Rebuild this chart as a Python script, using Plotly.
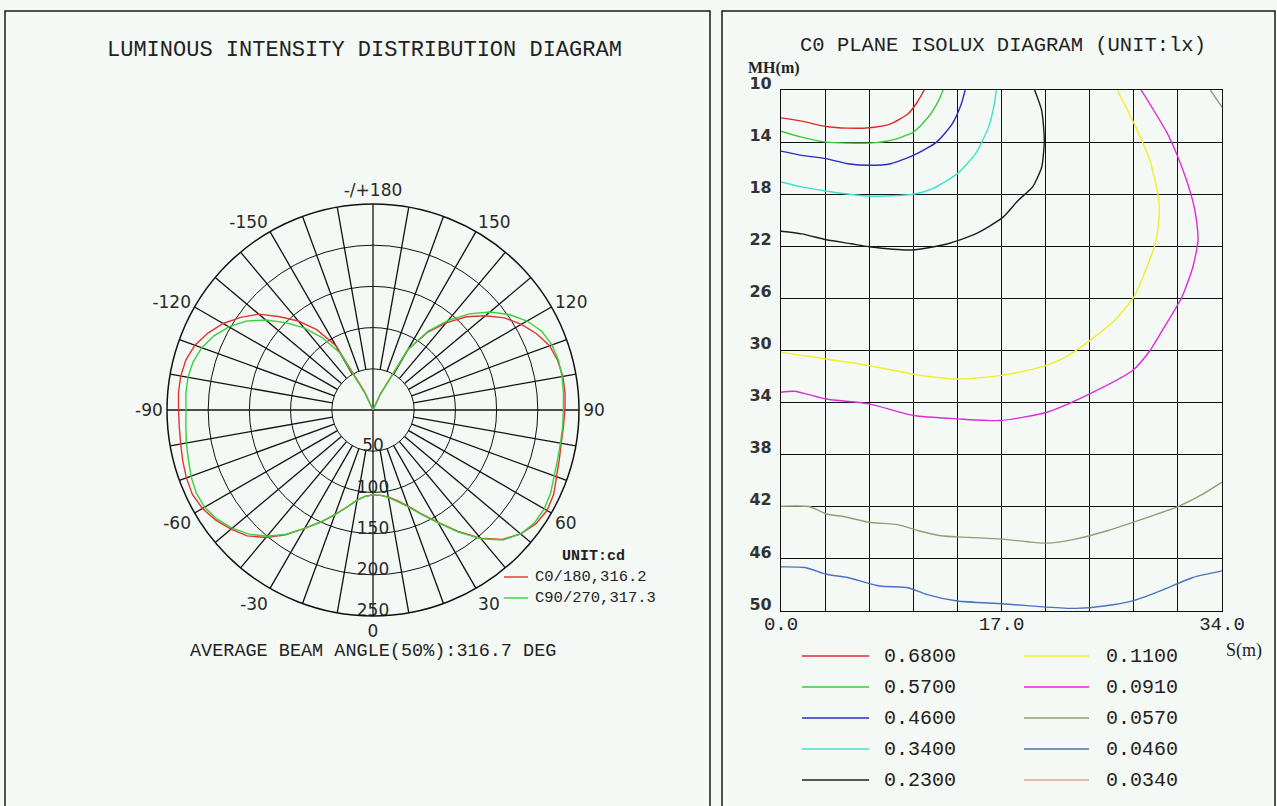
import plotly.graph_objects as go
import numpy as np

# ---------------- DATA ----------------
ANGLES = list(range(-180, 181, 5))
C0_180 = [0, 0, 0, 0, 0, 25, 90, 119, 141, 160, 181, 196, 210, 221, 230, 235, 237, 237,
          236, 236, 237, 239, 241, 242, 239, 233, 225, 216, 202, 185, 166, 150, 135, 122, 111, 105,
          103,
          104, 107, 114, 124, 139, 157, 180, 203, 222, 234, 241, 244, 242, 237, 234, 232, 232,
          233, 234, 234, 232, 228, 219, 208, 195, 178, 160, 138, 115, 85, 22, 0, 0, 0, 0, 0]
C90_270 = [0, 0, 0, 0, 0, 20, 80, 107, 130, 150, 170, 188, 202, 213, 221, 226, 228, 228,
           227, 228, 230, 232, 235, 237, 236, 231, 223, 213, 200, 184, 166, 150, 135, 122, 111, 105,
           103,
           104, 108, 115, 125, 140, 158, 181, 204, 223, 234, 239, 240, 238, 234, 232, 231, 231,
           231, 232, 233, 233, 231, 226, 216, 202, 185, 165, 142, 117, 84, 20, 0, 0, 0, 0, 0]
POLAR_NAMES = ["C0/180,316.2", "C90/270,317.3"]
POLAR_COLORS = ["#e03434", "#3ccf3c"]
RADIAL_TICKS = [50, 100, 150, 200, 250]
ANG_TICKVALS = [0, 30, 60, 90, 120, 150, 180, 210, 240, 270, 300, 330]
ANG_TICKTEXT = ["0", "30", "60", "90", "120", "150", "-/+180", "-150", "-120", "-90", "-60", "-30"]

LEVELS = ["0.6800", "0.5700", "0.4600", "0.3400", "0.2300",
          "0.1100", "0.0910", "0.0570", "0.0460", "0.0340"]
LEVEL_COLORS = ["#dc2a2a", "#3ec83e", "#2a2ac4", "#3fe0cc", "#1e1e1e",
                "#eef02a", "#dc2adc", "#9a9a72", "#4a72c0", "#e0a480"]

ISO_068_S = [0, 1.6, 3.45, 5.15, 6.8, 8.45, 9.8, 10.5, 11.05]
ISO_068_MH = [12.14, 12.39, 12.8, 12.93, 12.9, 12.6, 11.83, 10.94, 10.0]
ISO_057_S = [0, 1.6, 3.45, 5.15, 6.8, 8.45, 10.2, 11.45, 12.15, 12.5]
ISO_057_MH = [13.16, 13.62, 14.0, 14.08, 14.08, 13.87, 13.24, 11.96, 10.82, 10.0]
ISO_046_S = [0, 1.6, 3.45, 5.15, 6.8, 8.45, 10.2, 12.0, 13.2, 13.9, 14.2]
ISO_046_MH = [14.69, 15.02, 15.27, 15.66, 15.78, 15.66, 15.02, 14.0, 12.6, 11.07, 10.0]
ISO_034_S = [0, 1.6, 3.45, 6.8, 10.2, 11.7, 13.6, 15.0, 16.0, 16.45, 16.6]
ISO_034_MH = [17.06, 17.44, 17.75, 18.15, 18.0, 17.57, 16.42, 14.89, 12.85, 11.07, 10.0]
ISO_023_S = [0, 1.6, 3.5, 5.4, 6.8, 10.1, 12.8, 15.0, 17.1, 18.3, 19.4, 20.1, 20.3, 20.1, 19.55]
ISO_023_MH = [20.85, 21.05, 21.5, 21.8, 22.03, 22.28, 21.82, 21.05, 19.78, 18.46, 17.44, 15.91,
              13.87, 11.58, 10.0]
ISO_011_S = [0, 3.5, 6.8, 10.1, 13.65, 16.9, 19.95, 21.9, 23.8, 25.7, 27.2, 28.2, 28.85, 29.13,
             29.13, 28.44, 27.35, 25.92]
ISO_011_MH = [30.14, 30.65, 31.16, 31.8, 32.19, 31.93, 31.29, 30.52, 29.24, 27.7, 25.91, 23.61,
              21.82, 20.03, 18.46, 15.4, 12.85, 10.0]
ISO_0091_S = [0, 1.04, 3.5, 6.8, 10.2, 13.65, 16.9, 20.5, 23.8, 27.1, 28.45, 29.55, 30.9, 31.75,
              32.15, 32.0, 31.73, 30.9, 29.8, 27.76]
ISO_0091_MH = [33.2, 33.13, 33.72, 34.1, 34.99, 35.25, 35.38, 34.74, 33.33, 31.54, 30.0, 28.21,
               25.91, 23.61, 21.57, 19.78, 18.46, 15.91, 13.36, 10.0]
ISO_0057_S = [0, 2.15, 3.5, 4.9, 6.8, 9.0, 10.6, 12.3, 14.5, 17.07, 20.45, 22.7, 25.15, 27.3,
              30.6, 32.55, 34.0, None, 33.1, 34.0]
ISO_0057_MH = [41.96, 41.98, 42.55, 42.76, 43.19, 43.37, 43.84, 44.22, 44.35, 44.48, 44.79, 44.48,
               43.84, 43.14, 41.98, 41.01, 40.11, None, 10.0, 11.32]
ISO_0046_S = [0, 1.85, 3.5, 5.15, 7.6, 9.8, 11.2, 13.6, 17.07, 20.45, 22.7, 24.9, 27.3, 29.55,
              31.75, 34.0]
ISO_0046_MH = [46.61, 46.66, 47.18, 47.43, 48.08, 48.21, 48.72, 49.23, 49.44, 49.70, 49.80, 49.62,
               49.16, 48.33, 47.43, 46.92]
ISO_0034_S = []
ISO_0034_MH = []

ISO_S = [ISO_068_S, ISO_057_S, ISO_046_S, ISO_034_S, ISO_023_S,
         ISO_011_S, ISO_0091_S, ISO_0057_S, ISO_0046_S, ISO_0034_S]
ISO_MH = [ISO_068_MH, ISO_057_MH, ISO_046_MH, ISO_034_MH, ISO_023_MH,
          ISO_011_MH, ISO_0091_MH, ISO_0057_MH, ISO_0046_MH, ISO_0034_MH]

S_RANGE = [0, 34]
MH_RANGE = [10, 50]
S_TICKTEXT = ["0.0", "17.0", "34.0"]

# ---------------- LAYOUT HELPERS ----------------
W, H = 1277, 806
BG = "#f5f9f5"
MONO = "Courier New, Liberation Mono, monospace"
SANS = "DejaVu Sans, Verdana, sans-serif"
SERIF = "Liberation Serif, Times New Roman, serif"


def px(x):
    return x / W


def py(y):
    return 1 - y / H


fig = go.Figure()

# ---------------- POLAR ----------------
cx, cy, R = 373, 410, 206
polar_dom_x = [px(cx - R), px(cx + R)]
polar_dom_y = [py(cy + R), py(cy - R)]

# spokes (grid) from inner ring to outer ring, every 10 degrees
sp_r, sp_t = [], []
for a in range(0, 360, 10):
    if a % 90 == 0:
        continue
    sp_r += [RADIAL_TICKS[0], RADIAL_TICKS[-1], None]
    sp_t += [a, a, None]
# main axes through the centre
sp_r += [RADIAL_TICKS[-1], 0, RADIAL_TICKS[-1], None, RADIAL_TICKS[-1], 0, RADIAL_TICKS[-1]]
sp_t += [0, 0, 180, None, 90, 90, 270]
fig.add_trace(go.Scatterpolar(r=sp_r, theta=sp_t, mode="lines",
                              line=dict(color="#111111", width=1.3),
                              hoverinfo="skip", showlegend=False))

for vals, name, col in zip([C0_180, C90_270], POLAR_NAMES, POLAR_COLORS):
    fig.add_trace(go.Scatterpolar(r=vals, theta=ANGLES, mode="lines", name=name,
                                  line=dict(color=col, width=1.4), showlegend=False))

# radial tick labels along the 0 deg direction
fig.add_trace(go.Scatterpolar(r=[v - 5 for v in RADIAL_TICKS], theta=[0] * len(RADIAL_TICKS),
                              mode="text", text=[str(v) for v in RADIAL_TICKS],
                              textposition="middle center",
                              textfont=dict(family=SANS, size=17, color="#2a2a2a"),
                              hoverinfo="skip", showlegend=False))

fig.update_layout(polar=dict(
    domain=dict(x=polar_dom_x, y=polar_dom_y),
    bgcolor=BG,
    radialaxis=dict(range=[0, RADIAL_TICKS[-1]], tickvals=RADIAL_TICKS, showticklabels=False,
                    ticks="", showline=False, gridcolor="#111111", gridwidth=1.3),
    angularaxis=dict(rotation=270, direction="counterclockwise", tickvals=ANG_TICKVALS,
                     ticktext=ANG_TICKTEXT, showgrid=False, showline=True, linecolor="#111111",
                     linewidth=1.5, ticks="",
                     tickfont=dict(family=SANS, size=17, color="#2a2a2a")),
))

# ---------------- ISOLUX ----------------
for s, mh, lev, col in zip(ISO_S, ISO_MH, LEVELS, LEVEL_COLORS):
    fig.add_trace(go.Scatter(x=s, y=mh, mode="lines", name=lev,
                             line=dict(color=col, width=1.4, shape="spline", smoothing=0.6),
                             connectgaps=False, showlegend=False, xaxis="x", yaxis="y"))

x_grid = list(np.linspace(S_RANGE[0], S_RANGE[1], 11))
x_text = [""] * 11
x_text[0], x_text[5], x_text[10] = S_TICKTEXT
y_grid = list(range(MH_RANGE[0], MH_RANGE[1] + 1, 4))

fig.update_layout(
    xaxis=dict(domain=[px(781), px(1222)], range=S_RANGE, tickvals=x_grid, ticktext=x_text,
               showgrid=True, gridcolor="#111111", gridwidth=1.3, zeroline=False,
               showline=True, linecolor="#111111", linewidth=1.3, mirror=True, ticks="",
               automargin=False, ticklabelstandoff=-5,
               tickfont=dict(family=MONO, size=19, color="#222222"), anchor="y"),
    yaxis=dict(domain=[py(611), py(90)], range=[MH_RANGE[1], MH_RANGE[0]], tickvals=y_grid,
               showgrid=True, gridcolor="#111111", gridwidth=1.3, zeroline=False,
               showline=True, linecolor="#111111", linewidth=1.3, mirror=True, ticks="",
               ticklabelshift=7, ticklabelstandoff=5, automargin=False,
               tickfont=dict(family="DejaVu Sans", size=16, color="#333333", weight="bold"),
               anchor="x"),
    plot_bgcolor=BG,
)

# ---------------- PANELS, TEXTS, LEGENDS ----------------
shapes = [
    dict(type="rect", xref="paper", yref="paper", x0=px(5), x1=px(710), y0=py(812), y1=py(11),
         line=dict(color="#1a1a1a", width=1.5), layer="below"),
    dict(type="rect", xref="paper", yref="paper", x0=px(722), x1=px(1275), y0=py(812), y1=py(11),
         line=dict(color="#1a1a1a", width=1.5), layer="below"),
]
annotations = [
    dict(text="LUMINOUS INTENSITY DISTRIBUTION DIAGRAM", x=px(364), y=py(51),
         font=dict(family=MONO, size=22, color="#222222")),
    dict(text="C0 PLANE ISOLUX DIAGRAM (UNIT:lx)", x=px(1003), y=py(46),
         font=dict(family=MONO, size=20.5, color="#222222")),
    dict(text="AVERAGE BEAM ANGLE(50%):316.7 DEG", x=px(373), y=py(651),
         font=dict(family=MONO, size=18.5, color="#222222")),
    dict(text="<b>MH(m)</b>", x=px(746), y=py(68), xanchor="left",
         font=dict(family=SERIF, size=16, color="#222222")),
    dict(text="S(m)", x=px(1224), y=py(650), xanchor="left",
         font=dict(family=SERIF, size=18, color="#222222")),
    dict(text="<b>UNIT:cd</b>", x=px(560), y=py(556), xanchor="left",
         font=dict(family=MONO, size=15, color="#222222")),
]

# polar legend
for i, (name, col) in enumerate(zip(POLAR_NAMES, POLAR_COLORS)):
    yy = 577 + i * 21
    shapes.append(dict(type="line", xref="paper", yref="paper", x0=px(504), x1=px(528),
                       y0=py(yy), y1=py(yy), line=dict(color=col, width=1.4)))
    annotations.append(dict(text=name, x=px(533), y=py(yy), xanchor="left",
                            font=dict(family=MONO, size=15.5, color="#222222")))

# isolux legend (two columns of five)
for i, (lev, col) in enumerate(zip(LEVELS, LEVEL_COLORS)):
    colnum, row = divmod(i, 5)
    yy = 656 + row * 31
    lx0, lx1, tx = (802, 869, 882) if colnum == 0 else (1024, 1089, 1104)
    shapes.append(dict(type="line", xref="paper", yref="paper", x0=px(lx0), x1=px(lx1),
                       y0=py(yy), y1=py(yy), line=dict(color=col, width=1.5)))
    annotations.append(dict(text=lev, x=px(tx), y=py(yy), xanchor="left",
                            font=dict(family=MONO, size=20, color="#222222")))

for a in annotations:
    a.setdefault("xref", "paper")
    a.setdefault("yref", "paper")
    a.setdefault("showarrow", False)
    a.setdefault("xanchor", "center")
    a.setdefault("yanchor", "middle")

fig.update_layout(width=W, height=H,
                  margin=dict(l=0, r=0, t=0, b=0, pad=0, autoexpand=False),
                  paper_bgcolor=BG, showlegend=False,
                  shapes=shapes, annotations=annotations)

fig.write_html("out.html", config={"displayModeBar": False},
               post_script="document.body.style.margin='0';document.body.style.overflow='hidden';")
